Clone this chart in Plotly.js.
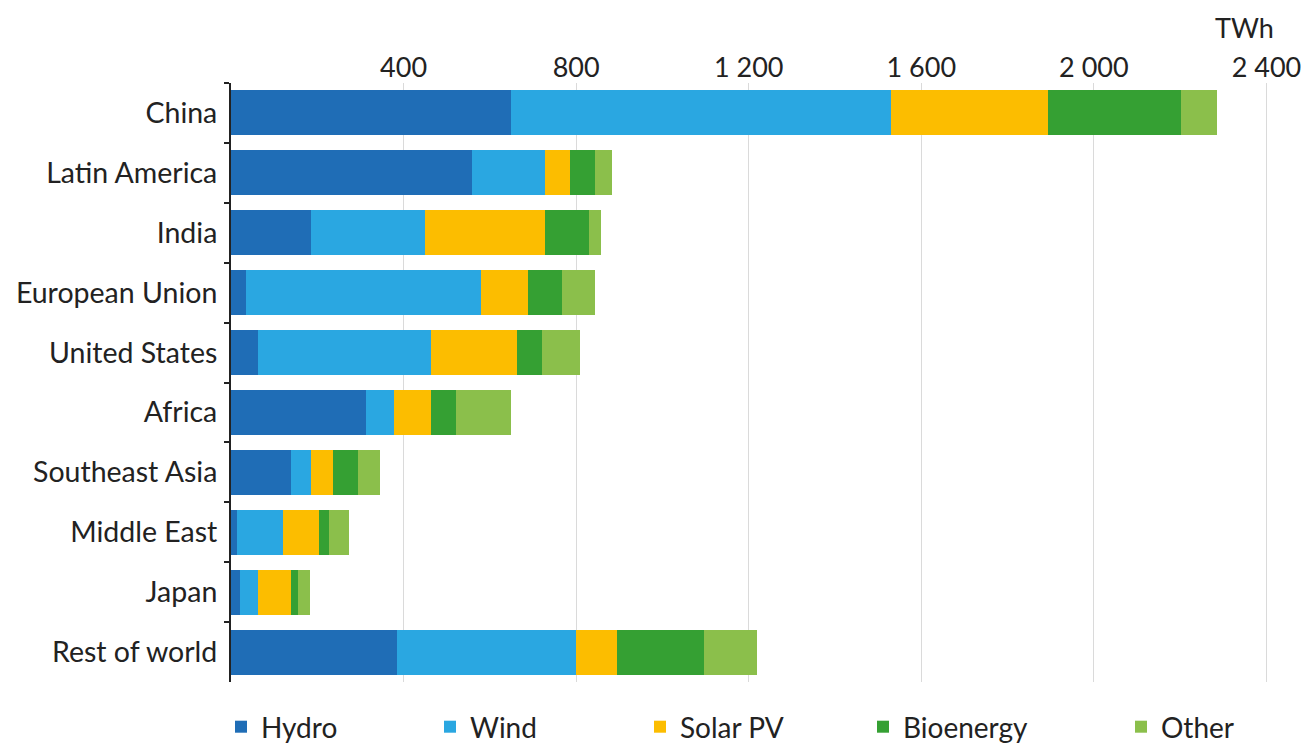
<!DOCTYPE html>
<html>
<head>
<meta charset="utf-8">
<script src="https://cdn.plot.ly/plotly-3.0.1.min.js"></script>
<style>
html,body{margin:0;padding:0;background:#fff;}
#chart{width:1306px;height:743px;}
</style>
</head>
<body>
<div id="chart"></div>
<script>
const regions = ["China","Latin America","India","European Union","United States","Africa","Southeast Asia","Middle East","Japan","Rest of world"];
const hydro     = [648, 558, 185,  34,  62, 312, 138,  15, 20, 384];
const wind      = [881, 169, 264, 545, 401,  65,  47, 105, 42, 415];
const solarPV   = [364,  58, 278, 109, 199,  86,  51,  83, 76,  95];
const bioenergy = [309,  58, 102,  79,  58,  58,  58,  23, 17, 202];
const other     = [ 83,  40,  28,  76,  90, 127,  51,  47, 28, 123];

const seriesNames = ["Hydro","Wind","Solar PV","Bioenergy","Other"];
const seriesColors = ["#1f6db6","#2aa7e1","#fcbd00","#35a033","#8bbf4b"];
const tickValues = [400, 800, 1200, 1600, 2000, 2400];
const tickLabels = ["400","800","1 200","1 600","2 000","2 400"];
const unitLabel = "TWh";

const W = 1306, H = 743;
const legendIds = ["legend","legend2","legend3","legend4","legend5"];
const legendLeftPx = [221, 430, 640, 863, 1121];

const seriesData = [hydro, wind, solarPV, bioenergy, other];
const traces = seriesData.map((vals, i) => ({
  type: "bar",
  orientation: "h",
  name: seriesNames[i],
  x: vals,
  y: regions,
  legend: legendIds[i],
  marker: {color: seriesColors[i], line: {width: 0}},
  hoverinfo: "x+name"
}));

const font = "Lato, 'Open Sans', sans-serif";
const fs = 27;
const layout = {
  width: W,
  height: H,
  barmode: "stack",
  bargap: 0.25,
  paper_bgcolor: "#fff",
  plot_bgcolor: "#fff",
  margin: {l: 231, r: 18, t: 83, b: 61, autoexpand: false},
  font: {family: font, size: fs, color: "#222"},
  xaxis: {
    side: "top",
    range: [0, 2450],
    tickvals: tickValues,
    ticktext: tickLabels,
    showgrid: true,
    gridcolor: "#dadada",
    gridwidth: 1,
    zeroline: false,
    showline: false,
    ticks: "",
    tickfont: {family: font, size: fs, color: "#222"},
    automargin: false,
    fixedrange: true
  },
  yaxis: {
    type: "category",
    autorange: "reversed",
    showline: true,
    linecolor: "#222",
    linewidth: 2,
    ticks: "outside",
    tickson: "boundaries",
    ticklen: 5,
    tickwidth: 2,
    tickcolor: "#222",
    showgrid: false,
    zeroline: false,
    tickfont: {family: font, size: 28.5, color: "#222"},
    ticklabelstandoff: 6,
    automargin: false,
    fixedrange: true
  },
  showlegend: true,
  annotations: [{
    text: unitLabel,
    xref: "paper",
    yref: "paper",
    x: 0.929,
    y: 1.092,
    xanchor: "left",
    yanchor: "middle",
    showarrow: false,
    font: {family: font, size: fs, color: "#222"}
  }]
};

legendIds.forEach((id, i) => {
  layout[id] = {
    orientation: "h",
    xref: "container",
    yref: "container",
    x: legendLeftPx[i] / W,
    xanchor: "left",
    y: 16 / H,
    yanchor: "middle",
    bgcolor: "rgba(0,0,0,0)",
    font: {family: font, size: 28, color: "#222"},
    itemclick: false,
    itemdoubleclick: false
  };
});

Plotly.newPlot("chart", traces, layout, {displayModeBar: false, staticPlot: true});
</script>
</body>
</html>
